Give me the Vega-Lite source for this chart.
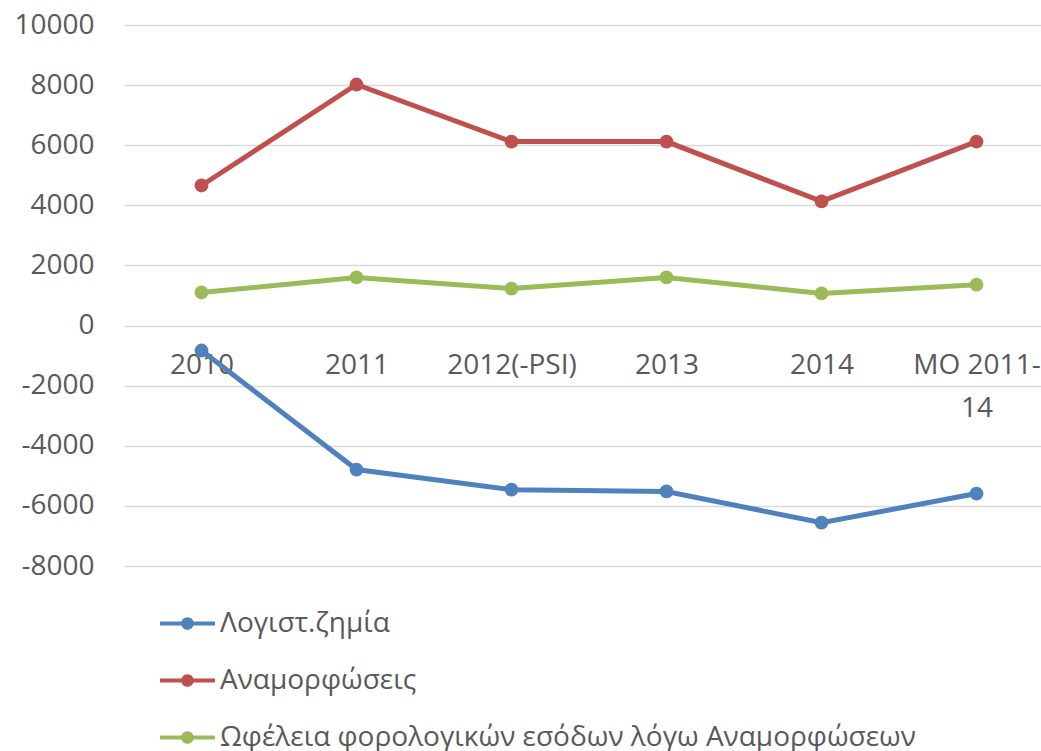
{
  "$schema": "https://vega.github.io/schema/vega-lite/v6.json",
  "width": 917,
  "height": 541,
  "autosize": {"type": "none"},
  "padding": {"left": 124, "top": 25, "right": 0, "bottom": 185},
  "background": "white",
  "config": {
    "view": {"stroke": null},
    "font": "Open Sans",
    "axis": {"labelFont": "Open Sans", "labelFontSize": 28, "labelColor": "#595959"},
    "legend": {"labelFont": "Open Sans", "labelFontSize": 28, "labelColor": "#595959"}
  },
  "data": {
    "values": [
      {"year": "2010", "series": "Λογιστ.ζημία", "value": -830},
      {"year": "2011", "series": "Λογιστ.ζημία", "value": -4790},
      {"year": "2012(-PSI)", "series": "Λογιστ.ζημία", "value": -5460},
      {"year": "2013", "series": "Λογιστ.ζημία", "value": -5520},
      {"year": "2014", "series": "Λογιστ.ζημία", "value": -6560},
      {"year": "MO 2011-14", "series": "Λογιστ.ζημία", "value": -5590},
      {"year": "2010", "series": "Αναμορφώσεις", "value": 4660},
      {"year": "2011", "series": "Αναμορφώσεις", "value": 8020},
      {"year": "2012(-PSI)", "series": "Αναμορφώσεις", "value": 6120},
      {"year": "2013", "series": "Αναμορφώσεις", "value": 6120},
      {"year": "2014", "series": "Αναμορφώσεις", "value": 4130},
      {"year": "MO 2011-14", "series": "Αναμορφώσεις", "value": 6120},
      {"year": "2010", "series": "Ωφέλεια φορολογικών εσόδων λόγω  Αναμορφώσεων", "value": 1100},
      {"year": "2011", "series": "Ωφέλεια φορολογικών εσόδων λόγω  Αναμορφώσεων", "value": 1600},
      {"year": "2012(-PSI)", "series": "Ωφέλεια φορολογικών εσόδων λόγω  Αναμορφώσεων", "value": 1230},
      {"year": "2013", "series": "Ωφέλεια φορολογικών εσόδων λόγω  Αναμορφώσεων", "value": 1600},
      {"year": "2014", "series": "Ωφέλεια φορολογικών εσόδων λόγω  Αναμορφώσεων", "value": 1070},
      {"year": "MO 2011-14", "series": "Ωφέλεια φορολογικών εσόδων λόγω  Αναμορφώσεων", "value": 1360}
    ]
  },
  "mark": {"type": "line", "strokeWidth": 5, "point": {"filled": true, "size": 190}},
  "encoding": {
    "x": {
      "field": "year",
      "type": "ordinal",
      "sort": ["2010", "2011", "2012(-PSI)", "2013", "2014", "MO 2011-14"],
      "scale": {"type": "point", "range": [0, 930], "padding": 0.5},
      "axis": {
        "title": null,
        "orient": "bottom",
        "offset": -241,
        "domain": false,
        "ticks": false,
        "grid": false,
        "labelAngle": 0,
        "labelPadding": 26,
        "labelLineHeight": 43,
        "labelBaseline": "top",
        "labelExpr": "datum.label == 'MO 2011-14' ? ['MO 2011-', '14'] : datum.label"
      }
    },
    "y": {
      "field": "value",
      "type": "quantitative",
      "scale": {"domain": [-8000, 10000], "nice": false, "zero": false},
      "axis": {
        "title": null,
        "values": [-8000, -6000, -4000, -2000, 0, 2000, 4000, 6000, 8000, 10000],
        "format": "d",
        "labelExpr": "replace(datum.label, '\u2212', '-')",
        "domain": false,
        "ticks": false,
        "labelPadding": 30,
        "gridColor": "#d9d9d9",
        "gridWidth": 1.5
      }
    },
    "color": {
      "field": "series",
      "type": "nominal",
      "scale": {
        "domain": ["Λογιστ.ζημία", "Αναμορφώσεις", "Ωφέλεια φορολογικών εσόδων λόγω  Αναμορφώσεων"],
        "range": ["#4f81bd", "#c0504d", "#9bbb59"]
      },
      "legend": {
        "title": null,
        "orient": "none",
        "legendX": 36,
        "legendY": 571,
        "direction": "vertical",
        "padding": 0,
        "rowPadding": 15,
        "labelOffset": 5,
        "symbolSize": 3025,
        "symbolStrokeWidth": 0,
        "symbolType": "M-1,-0.075H-0.2V0.075H-1Z M0.2,-0.075H1V0.075H0.2Z M-0.23,0A0.23,0.23 0 1,1 0.23,0A0.23,0.23 0 1,1 -0.23,0Z",
        "labelLimit": 900,
        "encode": {
          "symbols": {"update": {"fill": {"scale": "color", "field": "value"}, "strokeWidth": {"value": 0}, "opacity": {"value": 1}}}
        }
      }
    }
  }
}
